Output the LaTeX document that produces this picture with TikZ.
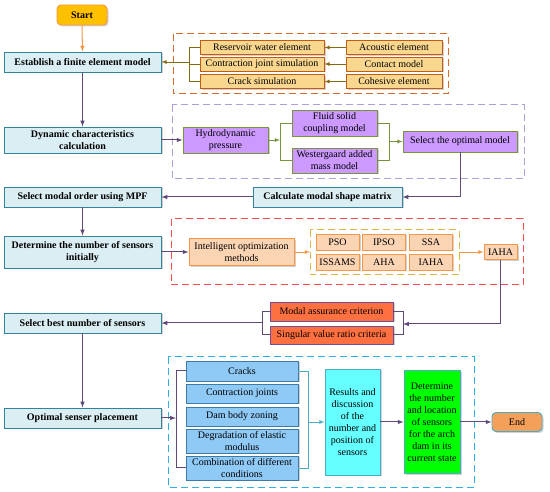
\documentclass[tikz,border=0pt]{standalone}
\usepackage[x11names]{xcolor}
\usepackage{fontspec}
\setmainfont{Liberation Serif}
\usetikzlibrary{shadows}

\definecolor{mainfill}{HTML}{DAEEF3}
\definecolor{mainedge}{HTML}{31849B}
\definecolor{flowcol}{HTML}{5F497A}
\definecolor{yelfill}{HTML}{FAD78E}
\definecolor{yeledge}{HTML}{C55A11}
\definecolor{olvcol}{HTML}{846B0F}
\definecolor{orgdash}{HTML}{D86B2A}
\definecolor{purdash}{HTML}{B09FDB}
\definecolor{purfill}{HTML}{CC99FF}
\definecolor{grncol}{HTML}{77933C}
\definecolor{reddash}{HTML}{FF4B4B}
\definecolor{lorfill}{HTML}{FBD4B4}
\definecolor{orgcol}{HTML}{F79646}
\definecolor{yeldash}{HTML}{E0B64A}
\definecolor{critfill}{HTML}{FF7040}
\definecolor{critedge}{HTML}{6F4F9A}
\definecolor{bludash}{HTML}{2FB0E6}
\definecolor{condfill}{HTML}{8FC9F5}
\definecolor{condedge}{HTML}{3A7CA5}
\definecolor{resfill}{HTML}{66FFFF}
\definecolor{tealcol}{HTML}{4BACC6}
\definecolor{startfill}{HTML}{FFC000}
\definecolor{endfill}{HTML}{F5A05A}

\begin{document}
\begin{tikzpicture}[x=1pt, y=-1pt, font=\fontsize{10}{12}\selectfont,
    box/.style={draw, line width=0.9pt, align=center, inner sep=1pt,
        drop shadow={shadow xshift=1.5pt, shadow yshift=-1.5pt, opacity=0.3, fill=black!60}},
    mainbox/.style={box, fill=mainfill, draw=mainedge, minimum width=157,
        font=\fontsize{10}{12}\selectfont\bfseries},
    yelbox/.style={box, fill=yelfill, draw=yeledge, minimum height=14},
    purbox/.style={box, fill=purfill, draw=grncol},
    lorbox/.style={box, fill=lorfill, draw=orgcol},
    critbox/.style={box, fill=critfill, draw=critedge, minimum width=123},
    condbox/.style={box, fill=condfill, draw=condedge, minimum width=112},
    frame/.style={line width=1pt, dash pattern=on 7pt off 4pt},
    flow/.style={-latex, draw=flowcol, line width=1pt},
    flowline/.style={draw=flowcol, line width=1pt},
    olv/.style={draw=olvcol, line width=0.8pt},
    grn/.style={draw=grncol, line width=0.8pt},
    org/.style={draw=orgcol, line width=0.8pt},
    tealline/.style={draw=tealcol, line width=0.8pt}]
    \useasboundingbox (0,0) rectangle (550,492);

    % dashed groups
    \draw[frame, orgdash] (173,34) rectangle (448,94);
    \draw[frame, purdash] (172,105) rectangle (524,179);
    \draw[frame, reddash] (171,219) rectangle (523,285);
    \draw[frame, yeldash] (310,230) rectangle (459,275);
    \draw[frame, bludash] (168,357) rectangle (474,487);

    % main column
    \node[box, fill=startfill, draw=orgcol, rounded corners=4pt, minimum width=50,
        minimum height=20, font=\fontsize{10}{12}\selectfont\bfseries] (start) at (82,15) {Start};
    \node[mainbox, minimum height=20] (est) at (82.5,62) {Establish a finite element model};
    \node[mainbox, minimum height=26] (dyn) at (82.5,140) {Dynamic characteristics\\calculation};
    \node[mainbox, minimum height=20] (selmod) at (82.5,197) {Select modal order using MPF};
    \node[mainbox, minimum height=32] (detnum) at (82.5,252) {Determine the number of sensors\\initially};
    \node[mainbox, minimum height=20] (selbest) at (82.5,323) {Select best number of sensors};
    \node[mainbox, minimum height=20] (opt) at (82.5,418) {Optimal senser placement};

    % element types
    \node[yelbox, minimum width=124] (res) at (262,47.5) {Reservoir water element};
    \node[yelbox, minimum width=124] (contr) at (262,64) {Contraction joint simulation};
    \node[yelbox, minimum width=124] (crack) at (262,81.5) {Crack simulation};
    \node[yelbox, minimum width=96] (acou) at (394,47.5) {Acoustic element};
    \node[yelbox, minimum width=96] (cont) at (394,64) {Contact model};
    \node[yelbox, minimum width=96] (cohe) at (394,81.5) {Cohesive element};

    % dynamic models
    \node[purbox, minimum width=85, minimum height=26] (hydro) at (225.5,140) {Hydrodynamic\\pressure};
    \node[purbox, minimum width=85, minimum height=26] (fluid) at (334.5,123) {Fluid solid\\coupling model};
    \node[purbox, minimum width=85, minimum height=25] (west) at (334.5,160.5) {Westergaard added\\mass model};
    \node[purbox, minimum width=114, minimum height=21] (selopt) at (460,141.5) {Select the optimal model};
    \node[mainbox, minimum width=149, minimum height=20] (calc) at (327.5,197) {Calculate modal shape matrix};

    % optimization methods
    \node[lorbox, minimum width=105, minimum height=27] (intel) at (241.5,252) {Intelligent optimization\\methods};
    \foreach \nm/\lab/\x/\y in {pso/PSO/337.5/242, ipso/IPSO/384/242, ssa/SSA/431/242,
        issams/ISSAMS/337.5/262, aha/AHA/384/262, iahab/IAHA/431/262}
        \node[lorbox, minimum width=43, minimum height=16] (\nm) at (\x,\y) {\lab};
    \node[lorbox, minimum width=33, minimum height=15] (iaha) at (500.5,252) {IAHA};

    % criteria
    \node[critbox, minimum height=19] (mac) at (331.5,311.5) {Modal assurance criterion};
    \node[critbox, minimum height=18] (svr) at (331.5,335) {Singular value ratio criteria};

    % conditions
    \node[condbox, minimum height=20] (crk) at (242,371) {Cracks};
    \node[condbox, minimum height=19] (cjt) at (242,393.5) {Contraction joints};
    \node[condbox, minimum height=19] (dbz) at (242,416.5) {Dam body zoning};
    \node[condbox, minimum height=24] (deg) at (242,441) {Degradation of elastic\\modulus};
    \node[condbox, minimum height=24] (comb) at (242,468) {Combination of different\\conditions};
    \node[box, fill=resfill, draw=tealcol, minimum width=55, minimum height=106] (resu) at (352.5,422)
        {Results and\\discussion\\of the\\number and\\position of\\sensors};
    \node[box, fill=green, draw=tealcol, minimum width=56, minimum height=103] (detloc) at (432,422)
        {Determine\\the number\\and location\\of sensors\\for the arch\\dam in its\\current state};
    \node[box, fill=endfill, draw=tealcol, rounded corners=4pt, minimum width=50, minimum height=19] (end) at (517,422) {End};

    % junction points
    \coordinate (ybr) at (189,62);
    \coordinate (hbl) at (280,140);
    \coordinate (hbr) at (389,141.5);
    \coordinate (ydw) at (310,252);
    \coordinate (yde) at (459,252);
    \coordinate (mbr) at (403,324);
    \coordinate (mbl) at (262,323);
    \coordinate (cbl) at (176,418);
    \coordinate (cbr) at (308,422);

    % connectors
    \draw[-latex, draw=orgcol, line width=1pt] (start) -- (est);
    \draw[flow] (est) -- (dyn);
    \draw[-latex, olv] (acou) -- (res);
    \draw[-latex, olv] (cont) -- (contr);
    \draw[-latex, olv] (cohe) -- (crack);
    \draw[olv] (res.west) -- (res.west -| ybr) -- (crack.west -| ybr) -- (crack.west);
    \draw[olv] (contr.west) -- (contr.west -| ybr);
    \draw[-latex, olv] (ybr) -- (est.east);

    \draw[flow] (dyn) -- (hydro);
    \draw[-latex, grn] (hydro) -- (hbl);
    \draw[grn] (fluid.west) -- (fluid.west -| hbl) -- (west.west -| hbl) -- (west.west);
    \draw[grn] (fluid.east) -- (fluid.east -| hbr) -- (west.east -| hbr) -- (west.east);
    \draw[-latex, grn] (hbr) -- (selopt);
    \draw[flow] (selopt.south) |- (calc.east);
    \draw[flow] (calc) -- (selmod);
    \draw[flow] (selmod) -- (detnum);

    \draw[flow] (detnum) -- (intel);
    \draw[-latex, org] (intel) -- (ydw);
    \draw[-latex, org] (yde) -- (iaha);
    \draw[flow] (iaha.south) |- (mbr);
    \draw[flowline] (mac.east) -- (mac.east -| mbr) -- (svr.east -| mbr) -- (svr.east);
    \draw[flowline] (mac.west) -- (mac.west -| mbl) -- (svr.west -| mbl) -- (svr.west);
    \draw[flow] (mbl) -- (selbest);
    \draw[flow] (selbest) -- (opt);

    \draw[flow] (opt) -- (cbl);
    \draw[flowline] (crk.west) -- (crk.west -| cbl) -- (comb.west -| cbl) -- (comb.west);
    \draw[tealline] (crk.east) -- (crk.east -| cbr) -- (comb.east -| cbr) -- (comb.east);
    \draw[-latex, tealline] (cbr) -- (resu);
    \draw[flow] (resu) -- (detloc);
    \draw[flow] (detloc) -- (end);
\end{tikzpicture}
\end{document}
